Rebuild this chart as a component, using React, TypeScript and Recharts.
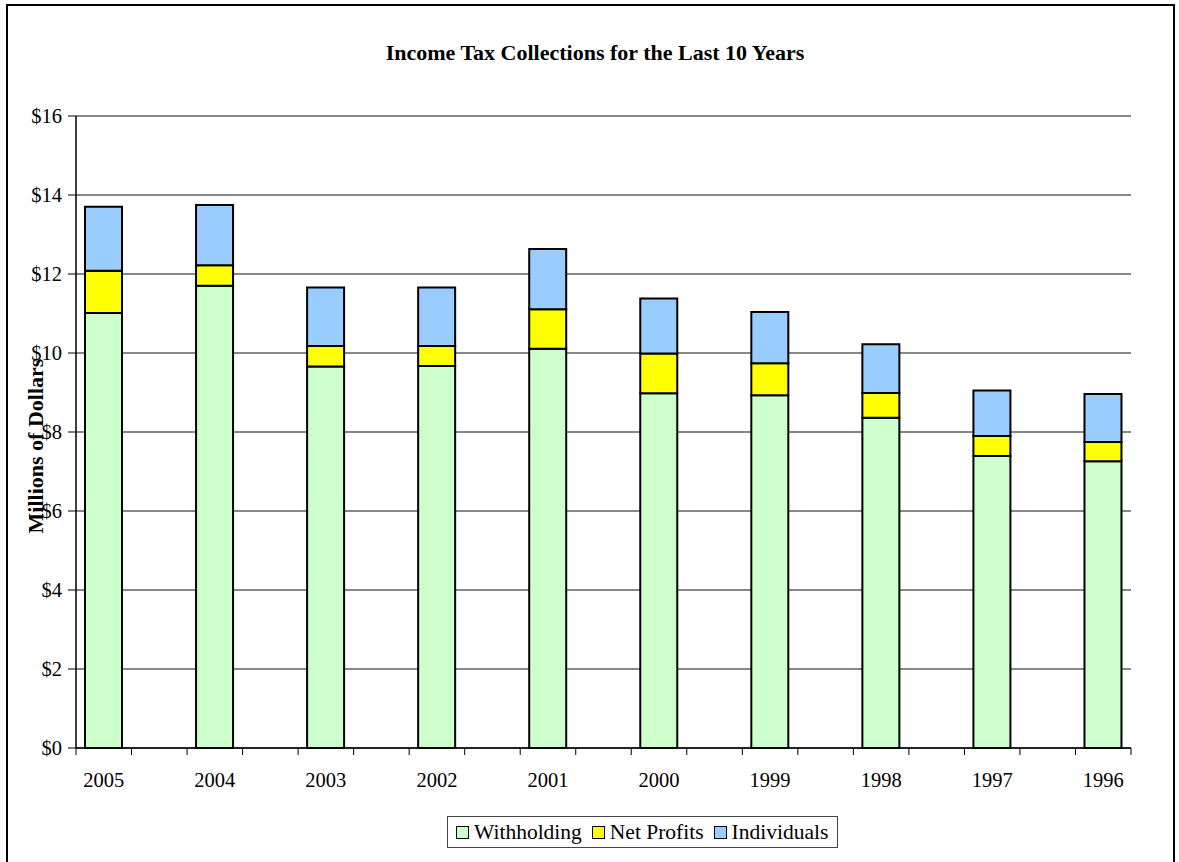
import React from 'react';
import { BarChart, Bar, XAxis, YAxis, CartesianGrid, Legend, Label } from 'recharts';

const years = ['2005', '2004', '2003', '2002', '2001', '2000', '1999', '1998', '1997', '1996'];
const withholding = [11.01, 11.7, 9.66, 9.67, 10.11, 8.98, 8.93, 8.36, 7.39, 7.26];
const netProfits = [1.07, 0.52, 0.52, 0.51, 1.0, 1.01, 0.81, 0.63, 0.51, 0.49];
const individuals = [1.62, 1.53, 1.48, 1.48, 1.52, 1.39, 1.3, 1.23, 1.15, 1.21];
const yTicks = [0, 2, 4, 6, 8, 10, 12, 14, 16];
const seriesKeys = ['withholding', 'netProfits', 'individuals'];
const seriesNames = ['Withholding', 'Net Profits', 'Individuals'];
const seriesColors = ['#CCFFCC', '#FFFF00', '#99CCFF'];
const title = 'Income Tax Collections for the Last 10 Years';
const yLabel = 'Millions of Dollars';

// Excel-style layout: an empty category between each pair of years
const data: any[] = [];
years.forEach((y, i) => {
  data.push({ cat: y, withholding: withholding[i], netProfits: netProfits[i], individuals: individuals[i] });
  if (i < years.length - 1) data.push({ cat: `_gap${i}`, withholding: null, netProfits: null, individuals: null });
});

const W = 1179;
const H = 862;
const M = { top: 116, right: 48, bottom: 74, left: 0 };
const Y_AXIS_W = 76;
const X_AXIS_H = 40;
const PLOT_LEFT = M.left + Y_AXIS_W;
const PLOT_RIGHT = W - M.right;
const PLOT_BOTTOM = H - M.bottom - X_AXIS_H;
const BAND = (PLOT_RIGHT - PLOT_LEFT) / data.length;
const FONT = "'Liberation Serif', 'Times New Roman', Times, serif";

const XTick = (props: any) => {
  const { x, payload, index } = props;
  const v = String(payload.value);
  const half = BAND / 2;
  return (
    <g>
      <line x1={x - half} x2={x - half} y1={PLOT_BOTTOM} y2={PLOT_BOTTOM + 7} stroke="#000" strokeWidth={1} />
      {index === data.length - 1 && (
        <line x1={x + half} x2={x + half} y1={PLOT_BOTTOM} y2={PLOT_BOTTOM + 7} stroke="#000" strokeWidth={1} />
      )}
      {!v.startsWith('_') && (
        <text x={x} y={PLOT_BOTTOM + 39} textAnchor="middle" fontFamily={FONT} fontSize={20.5} fill="#000">
          {v}
        </text>
      )}
    </g>
  );
};

const renderLegend = () => (
  <div
    style={{
      boxSizing: 'border-box',
      width: 391,
      height: 32,
      border: '1px solid #444',
      background: '#fff',
      display: 'flex',
      alignItems: 'center',
      paddingLeft: 8,
      fontFamily: FONT,
      fontSize: 21.5,
      color: '#000',
      whiteSpace: 'nowrap',
    }}
  >
    {seriesNames.map((n, i) => (
      <span key={n} style={{ display: 'inline-flex', alignItems: 'center', marginRight: 10 }}>
        <span
          style={{
            display: 'inline-block',
            boxSizing: 'border-box',
            width: 13,
            height: 13,
            background: seriesColors[i],
            border: '1.5px solid #000',
            marginRight: 5,
          }}
        />
        {n}
      </span>
    ))}
  </div>
);

export default function App() {
  return (
    <div style={{ position: 'absolute', left: 0, top: 0, width: W, height: H, overflow: 'hidden', background: '#fff' }}>
      <div
        style={{
          position: 'absolute',
          left: 6,
          top: 4,
          width: 1169,
          height: 900,
          boxSizing: 'border-box',
          border: '2px solid #000',
        }}
      />
      <div
        style={{
          position: 'absolute',
          left: 0,
          top: 41,
          width: 1190,
          textAlign: 'center',
          fontFamily: FONT,
          fontWeight: 'bold',
          fontSize: 22,
          lineHeight: '23px',
          color: '#000',
        }}
      >
        {title}
      </div>
      <div style={{ position: 'absolute', left: 0, top: 0 }}>
        <BarChart width={W} height={H} data={data} margin={M} barSize={37}>
          <CartesianGrid vertical={false} stroke="#111" strokeWidth={1} />
          <XAxis
            dataKey="cat"
            height={X_AXIS_H}
            interval={0}
            tick={<XTick />}
            tickLine={false}
            axisLine={{ stroke: '#000', strokeWidth: 1.5 }}
          />
          <XAxis
            xAxisId="top"
            dataKey="cat"
            orientation="top"
            height={0}
            tick={false}
            tickLine={false}
            axisLine={{ stroke: '#808080', strokeWidth: 2 }}
          />
          <YAxis
            width={Y_AXIS_W}
            domain={[0, 16]}
            ticks={yTicks}
            interval={0}
            tickSize={8}
            tickMargin={6}
            tickFormatter={(v: number) => `$${v}`}
            tick={{ fontFamily: FONT, fontSize: 20.5, fill: '#000' }}
            tickLine={{ stroke: '#000' }}
            axisLine={{ stroke: '#000', strokeWidth: 1.5 }}
          >
            <Label
              content={() => (
                <text
                  x={35}
                  y={446}
                  transform="rotate(-90 35 446)"
                  textAnchor="middle"
                  dominantBaseline="central"
                  fontFamily={FONT}
                  fontWeight="bold"
                  fontSize={22}
                  fill="#000"
                >
                  {yLabel}
                </text>
              )}
            />
          </YAxis>
          <YAxis
            yAxisId="right"
            orientation="right"
            width={0}
            domain={[0, 16]}
            ticks={yTicks}
            tick={false}
            tickLine={false}
            axisLine={{ stroke: '#808080', strokeWidth: 2 }}
          />
          {seriesKeys.map((k, i) => (
            <Bar
              key={k}
              dataKey={k}
              name={seriesNames[i]}
              stackId="a"
              fill={seriesColors[i]}
              stroke="#000"
              strokeWidth={2}
              isAnimationActive={false}
            />
          ))}
          <Legend
            layout="horizontal"
            verticalAlign="middle"
            align="center"
            wrapperStyle={{ position: 'absolute', left: 447, top: 816, width: 391, height: 32 }}
            content={renderLegend}
          />
        </BarChart>
      </div>
    </div>
  );
}
